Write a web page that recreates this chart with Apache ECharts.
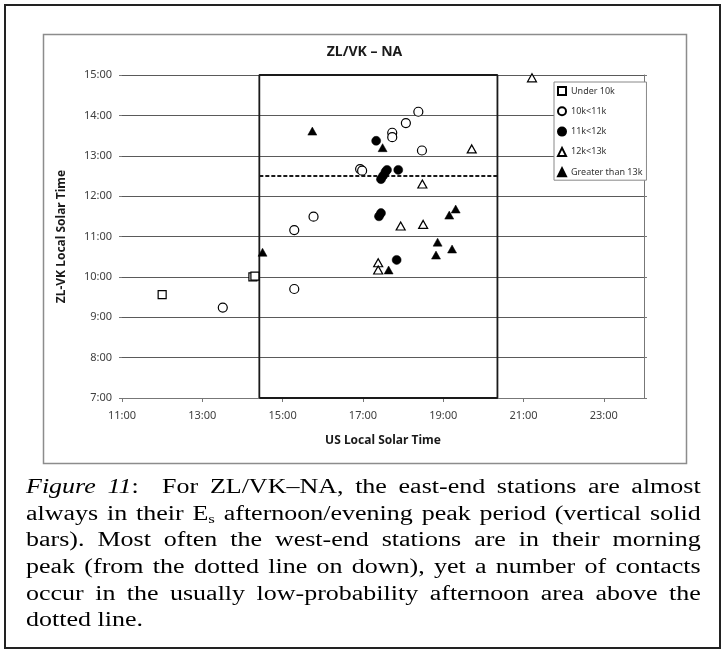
<!DOCTYPE html>
<html>
<head>
<meta charset="utf-8">
<script src="https://cdn.jsdelivr.net/npm/echarts@6/dist/echarts.min.js"></script>
<style>
  html, body { margin: 0; padding: 0; background: #fff; }
  #chart { position: absolute; left: 0; top: 0; width: 724px; height: 651px; }
  #caption {
    position: absolute; left: 26px; top: 473px; width: 519px;
    transform: scaleX(1.3); transform-origin: 0 0;
    font-family: "Liberation Serif", "DejaVu Serif", serif; font-size: 20px; color: #000;
  }
  #caption div { height: 26.7px; line-height: 26.7px; text-align: justify; text-align-last: justify; }
  #caption div.last { text-align-last: left; }
  #caption sub { font-size: 13px; vertical-align: -3px; line-height: 0; }
</style>
</head>
<body>
<div id="chart"></div>
<div id="caption">
  <div><i>Figure 11</i>:&nbsp; For ZL/VK–NA, the east-end stations are almost</div>
  <div>always in their E<sub>s</sub> afternoon/evening peak period (vertical solid</div>
  <div>bars). Most often the west-end stations are in their morning</div>
  <div>peak (from the dotted line on down), yet a number of contacts</div>
  <div>occur in the usually low-probability afternoon area above the</div>
  <div class="last">dotted line.</div>
</div>
<script>
// ---- data (hours, decimal) ----
const seriesNames = ['Under 10k', '10k<11k', '11k<12k', '12k<13k', 'Greater than 13k'];
const under10k = [[12.0, 9.56], [14.26, 10.0], [14.31, 10.02]];
const k10to11 = [[13.51, 9.24], [15.29, 9.70], [15.29, 11.16], [15.77, 11.49], [16.93, 12.67], [16.98, 12.63],
                 [17.73, 13.57], [17.73, 13.46], [18.07, 13.81], [18.38, 14.09], [18.47, 13.13]];
const k11to12 = [[17.33, 13.37], [17.88, 12.65], [17.45, 12.42], [17.5, 12.5], [17.56, 12.6], [17.6, 12.65],
                 [17.4, 11.5], [17.45, 11.58], [17.84, 10.42]];
const k12to13 = [[21.21, 14.93], [19.71, 13.17], [18.48, 12.30], [17.94, 11.26], [18.50, 11.30], [17.38, 10.35], [17.38, 10.17]];
const over13k = [[15.74, 13.61], [17.49, 13.2], [14.5, 10.61], [17.64, 10.17], [18.86, 10.86], [18.82, 10.54],
                 [19.22, 10.69], [19.15, 11.53], [19.31, 11.68]];
// east-end afternoon/evening peak box and west-end morning-peak dotted line
const boxX = [14.42, 20.35];
const boxY = [7, 15];
const dottedY = 12.5;
// axis ticks
const xTicks = [11, 13, 15, 17, 19, 21, 23];
const xRange = [11, 24];
const yRange = [7, 15];

const boxPath = [[boxX[0], boxY[0]], [boxX[0], boxY[1]], [boxX[1], boxY[1]], [boxX[1], boxY[0]], [boxX[0], boxY[0]]];
const dottedPath = [[boxX[0], dottedY], [boxX[1], dottedY]];

const FONT = 'Noto Sans';
const fmt = v => v + ':00';
const openStyle = { color: '#fff', borderColor: '#000', borderWidth: 1.2, opacity: 1 };
const fillStyle = { color: '#000', borderColor: '#000', borderWidth: 0.5, opacity: 1 };

const chart = echarts.init(document.getElementById('chart'), null, { renderer: 'canvas' });
chart.setOption({
  animation: false,
  backgroundColor: '#fff',
  textStyle: { fontFamily: FONT },
  graphic: [
    { type: 'rect', shape: { x: 5, y: 5, width: 715, height: 643 }, style: { fill: 'none', stroke: '#222', lineWidth: 2 }, silent: true },
    { type: 'rect', shape: { x: 43.5, y: 34.5, width: 643, height: 429 }, style: { fill: 'none', stroke: '#8c8c8c', lineWidth: 1.5 }, silent: true },
    { type: 'text', x: 364.5, y: 52, style: { text: 'ZL/VK – NA', fontFamily: FONT, fontSize: 14, fontWeight: 'bold', fill: '#1a1a1a', align: 'center', verticalAlign: 'middle' }, silent: true }
  ],
  grid: { left: 122, top: 75, width: 522, height: 323 },
  legend: {
    orient: 'vertical', left: 554, top: 82,
    padding: [4, 4, 3, 3], itemGap: 10.3, itemWidth: 8, itemHeight: 8,
    borderColor: '#888', borderWidth: 1, backgroundColor: '#fff',
    textStyle: { fontFamily: FONT, fontSize: 9, color: '#333' },
    data: seriesNames
  },
  xAxis: {
    type: 'value', min: xRange[0], max: xRange[1],
    axisLine: { show: true, lineStyle: { color: '#777', width: 1 } },
    axisTick: { show: true, length: 4, customValues: xTicks, lineStyle: { color: '#777' } },
    axisLabel: { customValues: xTicks, formatter: fmt, color: '#404040', fontSize: 11, margin: 12, fontFamily: FONT },
    splitLine: { show: false },
    name: 'US Local Solar Time', nameLocation: 'middle', nameGap: 37,
    nameTextStyle: { fontFamily: FONT, fontWeight: 'bold', fontSize: 12, color: '#1a1a1a' }
  },
  yAxis: [
    {
      type: 'value', min: yRange[0], max: yRange[1], interval: 1,
      axisLine: { show: false },
      axisTick: { show: true, length: 3, lineStyle: { color: '#777' } },
      axisLabel: { formatter: fmt, color: '#404040', fontSize: 11, margin: 10, fontFamily: FONT },
      splitLine: { show: true, lineStyle: { color: '#5a5a5a', width: 1 } },
      name: 'ZL-VK Local Solar Time', nameLocation: 'middle', nameGap: 54,
      nameTextStyle: { fontFamily: FONT, fontWeight: 'bold', fontSize: 12, color: '#1a1a1a' }
    },
    {
      type: 'value', position: 'right', min: yRange[0], max: yRange[1], interval: 1,
      axisLine: { show: true, lineStyle: { color: '#777', width: 1 } },
      axisTick: { show: true, length: 3, lineStyle: { color: '#777' } },
      axisLabel: { show: false },
      splitLine: { show: false }
    }
  ],
  series: [
    { type: 'line', data: boxPath, symbol: 'none', silent: true, z: 3, lineStyle: { color: '#1a1a1a', width: 1.8 } },
    { type: 'line', data: dottedPath, symbol: 'none', silent: true, z: 3, lineStyle: { color: '#1a1a1a', width: 2, type: [4, 2] } },
    { name: seriesNames[0], type: 'scatter', data: under10k, symbol: 'rect', symbolSize: 8, itemStyle: openStyle, z: 5 },
    { name: seriesNames[1], type: 'scatter', data: k10to11, symbol: 'circle', symbolSize: 9, itemStyle: openStyle, z: 5 },
    { name: seriesNames[2], type: 'scatter', data: k11to12, symbol: 'circle', symbolSize: 9, itemStyle: fillStyle, z: 5 },
    { name: seriesNames[3], type: 'scatter', data: k12to13, symbol: 'triangle', symbolSize: [9, 8], itemStyle: openStyle, z: 5 },
    { name: seriesNames[4], type: 'scatter', data: over13k, symbol: 'triangle', symbolSize: [9, 8], itemStyle: fillStyle, z: 5 }
  ]
});
</script>
</body>
</html>
